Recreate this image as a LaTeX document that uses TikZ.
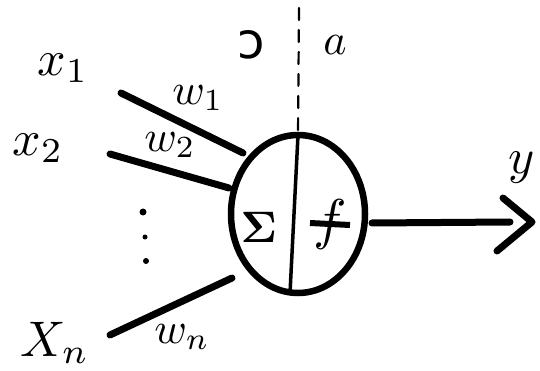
\documentclass[tikz,border=0pt]{standalone}
\usepackage{fontspec}
\usepackage{amsmath}
\usetikzlibrary{shapes.geometric}
\newfontfamily\djv{DejaVu Sans}
\begin{document}
\begin{tikzpicture}[x=1pt,y=-1pt,
  thickline/.style={line width=7pt,line cap=round,line join=round},
  lbl/.style={inner sep=0pt,scale=5},
  slbl/.style={inner sep=0pt,scale=4.4}]
\useasboundingbox (0,0) rectangle (540,371);
% neuron body
\node[draw,line width=6.5pt,ellipse,minimum width=134pt,minimum height=158pt,inner sep=0pt] (body) at (298,214) {};
\coordinate (top) at (298,135);
\coordinate (bot) at (290,293);
\coordinate (dtop) at (299,8);
\draw[line width=3.5pt] (top) -- (bot);
\draw[line width=2.2pt,dashed,dash pattern=on 12pt off 10pt,line cap=round] (dtop) -- (top);
\node[inner sep=0pt,scale=4.4] (sig) at (259,227) {$\boldsymbol{\Sigma}$};
\node[inner sep=0pt,scale=5.6] (fn) at (330,224) {$f$};
\draw[line width=6pt] ([xshift=-20pt,yshift=1pt]fn.center) -- ([xshift=20pt,yshift=-1pt]fn.center);
\node[inner sep=0pt,scale=5] (s) at (251,45) {\djv ɔ};
\node[slbl] (a) at (335,45) {$a$};
% output
\coordinate (oend) at (510,222);
\coordinate (ostart) at (372,223);
\draw[thickline] (ostart) -- (oend);
\coordinate (c1) at (503,198);
\coordinate (c2) at (532,222);
\coordinate (c3) at (497,251);
\draw[thickline] (c1) -- (c2) -- (c3);
\node[lbl] (y) at (522,168) {$y$};
% inputs
\coordinate (i1) at (121,93);
\coordinate (e1) at (243,153);
\coordinate (i2) at (110,154);
\coordinate (e2) at (229,188);
\coordinate (in) at (110,335);
\coordinate (en) at (232,278);
\draw[thickline] (i1) -- (e1);
\draw[thickline] (i2) -- (e2);
\draw[thickline] (in) -- (en);
\node[lbl] (x1) at (63,68) {$x_1$};
\node[lbl] (x2) at (38,148) {$x_2$};
\node[lbl] (xn) at (55,343) {$X_n$};
\node[slbl] (w1) at (198,98) {$w_1$};
\node[slbl] (w2) at (170,145) {$w_2$};
\node[slbl] (wn) at (182,337) {$w_n$};
\fill (143,212) circle (3.5pt);
\fill (145,237) circle (2.5pt);
\fill (146,261) circle (3pt);
\end{tikzpicture}
\end{document}
